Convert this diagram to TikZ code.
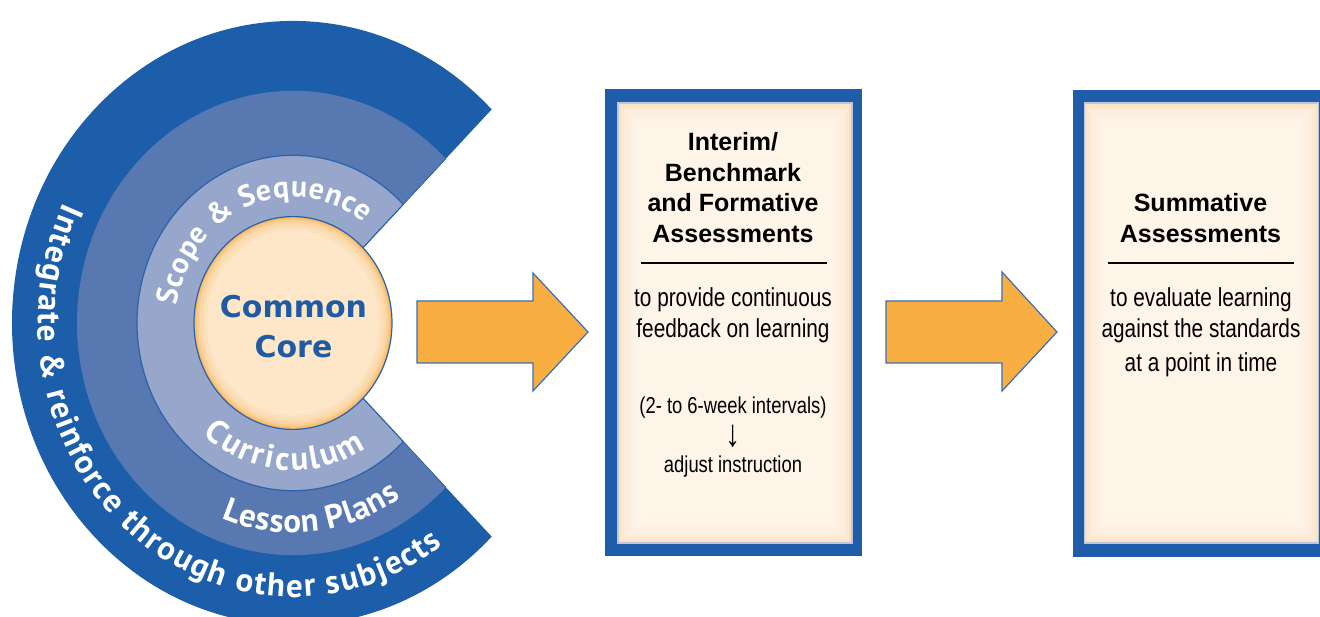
\documentclass[tikz,border=0pt]{standalone}
\usepackage{fontspec}
\setmainfont{Liberation Sans}
\newfontfamily\ringfont{PT Sans}
\newfontfamily\ccfont{DejaVu Sans}
\newfontfamily\narrowfont[FakeStretch=0.8]{Liberation Sans}
\usetikzlibrary{decorations.text}
\definecolor{ringdark}{HTML}{1C5EAA}
\definecolor{ringmid}{HTML}{5878B2}
\definecolor{ringlight}{HTML}{97A6CB}
\definecolor{edgeblue}{HTML}{2A62AC}
\definecolor{cream}{HTML}{FEE7C8}
\definecolor{glow}{HTML}{F8B65E}
\definecolor{arrowfill}{HTML}{F9AE42}
\definecolor{arrowblue}{HTML}{3A6EB5}
\definecolor{frameblue}{HTML}{1F5DAA}
\definecolor{boxcream}{HTML}{FEF4E8}
\definecolor{boxedge}{HTML}{FBD4A4}
\definecolor{boxline}{HTML}{BCC6DC}
\definecolor{cctext}{HTML}{1F5BA5}
\tikzset{
  frameouter/.style={rectangle, fill=frameblue, draw=none, inner sep=0pt, minimum width=257pt, minimum height=467pt},
  frameinner/.style={rectangle, fill=boxcream, draw=none, inner sep=0pt, minimum width=234pt, minimum height=440pt},
  titletext/.style={anchor=base, inner sep=0pt, font=\bfseries\fontsize{25}{30}\selectfont},
  bodytext/.style={anchor=base, inner sep=0pt, font=\narrowfont\fontsize{26}{30}\selectfont},
  smalltext/.style={anchor=base, inner sep=0pt, font=\narrowfont\fontsize{23}{28}\selectfont},
  cctextstyle/.style={anchor=base, inner sep=0pt, text=cctext, font=\ccfont\bfseries\fontsize{30}{36}\selectfont},
  blockarrow/.style={fill=arrowfill, draw=arrowblue, line width=1.2pt, line join=miter},
  rulestyle/.style={draw=black, line width=2pt},
  ringtext/.style={decorate, decoration={text along path, text align={fit to path}, text color=white}}
}
\begin{document}
\begin{tikzpicture}[x=1pt,y=1pt]
\path[use as bounding box] (0,0) rectangle (1320,616);
\clip (0,0) rectangle (1320,616);

% ---- the C rings ----
\begin{scope}[shift={(293,293)}, yscale=1.075]
  \fill[ringdark] (0,0) -- (45:281) arc[start angle=45, end angle=315, radius=281] -- cycle;
  \fill[ringmid] (0,0) -- (45:216) arc[start angle=45, end angle=315, radius=216] -- cycle;
  \draw[edgeblue, line width=0.8pt] (45:156) -- (45:216) (315:156) -- (315:216);
  \filldraw[fill=ringlight, draw=edgeblue, line width=1.2pt] (0,0) -- (45:156) arc[start angle=45, end angle=315, radius=156] -- cycle;
  % centre disc with orange glow near its rim
  \fill[glow] (0,0) circle[radius=99];
  \foreach \r in {97.5,96,94.5,93,91.5,90,88.5,87}
    \fill[cream, opacity=0.28] (0,0) circle[radius=\r];
  \fill[cream] (0,0) circle[radius=86];
  \draw[edgeblue, line width=1.2pt] (0,0) circle[radius=99];
  % curved labels
  \path[ringtext, decoration={text={|\ringfont\bfseries\fontsize{33}{33}\selectfont|Integrate {\&} reinforce through other subjects}}]
    (154:255) arc[start angle=154, end angle=306, radius=255];
  \path[ringtext, decoration={text={|\ringfont\bfseries\fontsize{33}{33}\selectfont|Lesson Plans}}]
    (248.5:195) arc[start angle=248.5, end angle=303.5, radius=195];
  \path[ringtext, decoration={text={|\ringfont\bfseries\fontsize{33}{33}\selectfont|Curriculum}}]
    (229:137) arc[start angle=229, end angle=302, radius=137];
  \path[ringtext, decoration={text={|\ringfont\bfseries\fontsize{30}{30}\selectfont|Scope {\&} Sequence}}]
    (172:117) arc[start angle=172, end angle=53, radius=117];
\end{scope}
\node[cctextstyle] (cc1) at (293.5,298) {Common};
\node[cctextstyle] (cc2) at (293.5,258) {Core};

% ---- block arrows ----
\draw[blockarrow] (417,315) -- (533,315) -- (533,343) -- (588,284) -- (533,225) -- (533,253) -- (417,253) -- cycle;
\draw[blockarrow] (886,315) -- (1002,315) -- (1002,344) -- (1057,284) -- (1002,225) -- (1002,253) -- (886,253) -- cycle;

% ---- box 1 ----
\node[frameouter] (box1) at (733.5,293.5) {};
\node[frameinner] (in1) at (735,293) {};
\foreach \d/\o in {1.5/0.55,4.5/0.35,7.5/0.22,10.5/0.13,13.5/0.07,16.5/0.03}
  \draw[boxedge, line width=3pt, opacity=\o] ([shift={(\d,\d)}]in1.south west) rectangle ([shift={(-\d,-\d)}]in1.north east);
\draw[boxline, line width=1.5pt] (in1.south west) rectangle (in1.north east);
\node[titletext] (t1a) at (733,465) {Interim/};
\node[titletext] (t1b) at (733,434) {Benchmark};
\node[titletext] (t1c) at (733,404) {and Formative};
\node[titletext] (t1d) at (733,373) {Assessments};
\draw[rulestyle] (641,353) -- (827,353);
\node[bodytext] (b1a) at (733,309) {to provide continuous};
\node[bodytext] (b1b) at (733,278) {feedback on learning};
\node[smalltext] (b1c) at (733,202) {(2- to 6-week intervals)};
\node[inner sep=0pt, font=\narrowfont\fontsize{38}{40}\selectfont] (b1d) at (733,180) {↓};
\node[smalltext] (b1e) at (733,143) {adjust instruction};

% ---- box 2 ----
\node[frameouter] (box2) at (1201.5,292.5) {};
\node[frameinner] (in2) at (1201.5,293) {};
\foreach \d/\o in {1.5/0.55,4.5/0.35,7.5/0.22,10.5/0.13,13.5/0.07,16.5/0.03}
  \draw[boxedge, line width=3pt, opacity=\o] ([shift={(\d,\d)}]in2.south west) rectangle ([shift={(-\d,-\d)}]in2.north east);
\draw[boxline, line width=1.5pt] (in2.south west) rectangle (in2.north east);
\node[titletext] (t2a) at (1200.5,404) {Summative};
\node[titletext] (t2b) at (1200.5,373) {Assessments};
\draw[rulestyle] (1108,353) -- (1294,353);
\node[bodytext] (b2a) at (1201,309) {to evaluate learning};
\node[bodytext] (b2b) at (1201,278) {against the standards};
\node[bodytext] (b2c) at (1201,244) {at a point in time};
\end{tikzpicture}
\end{document}
